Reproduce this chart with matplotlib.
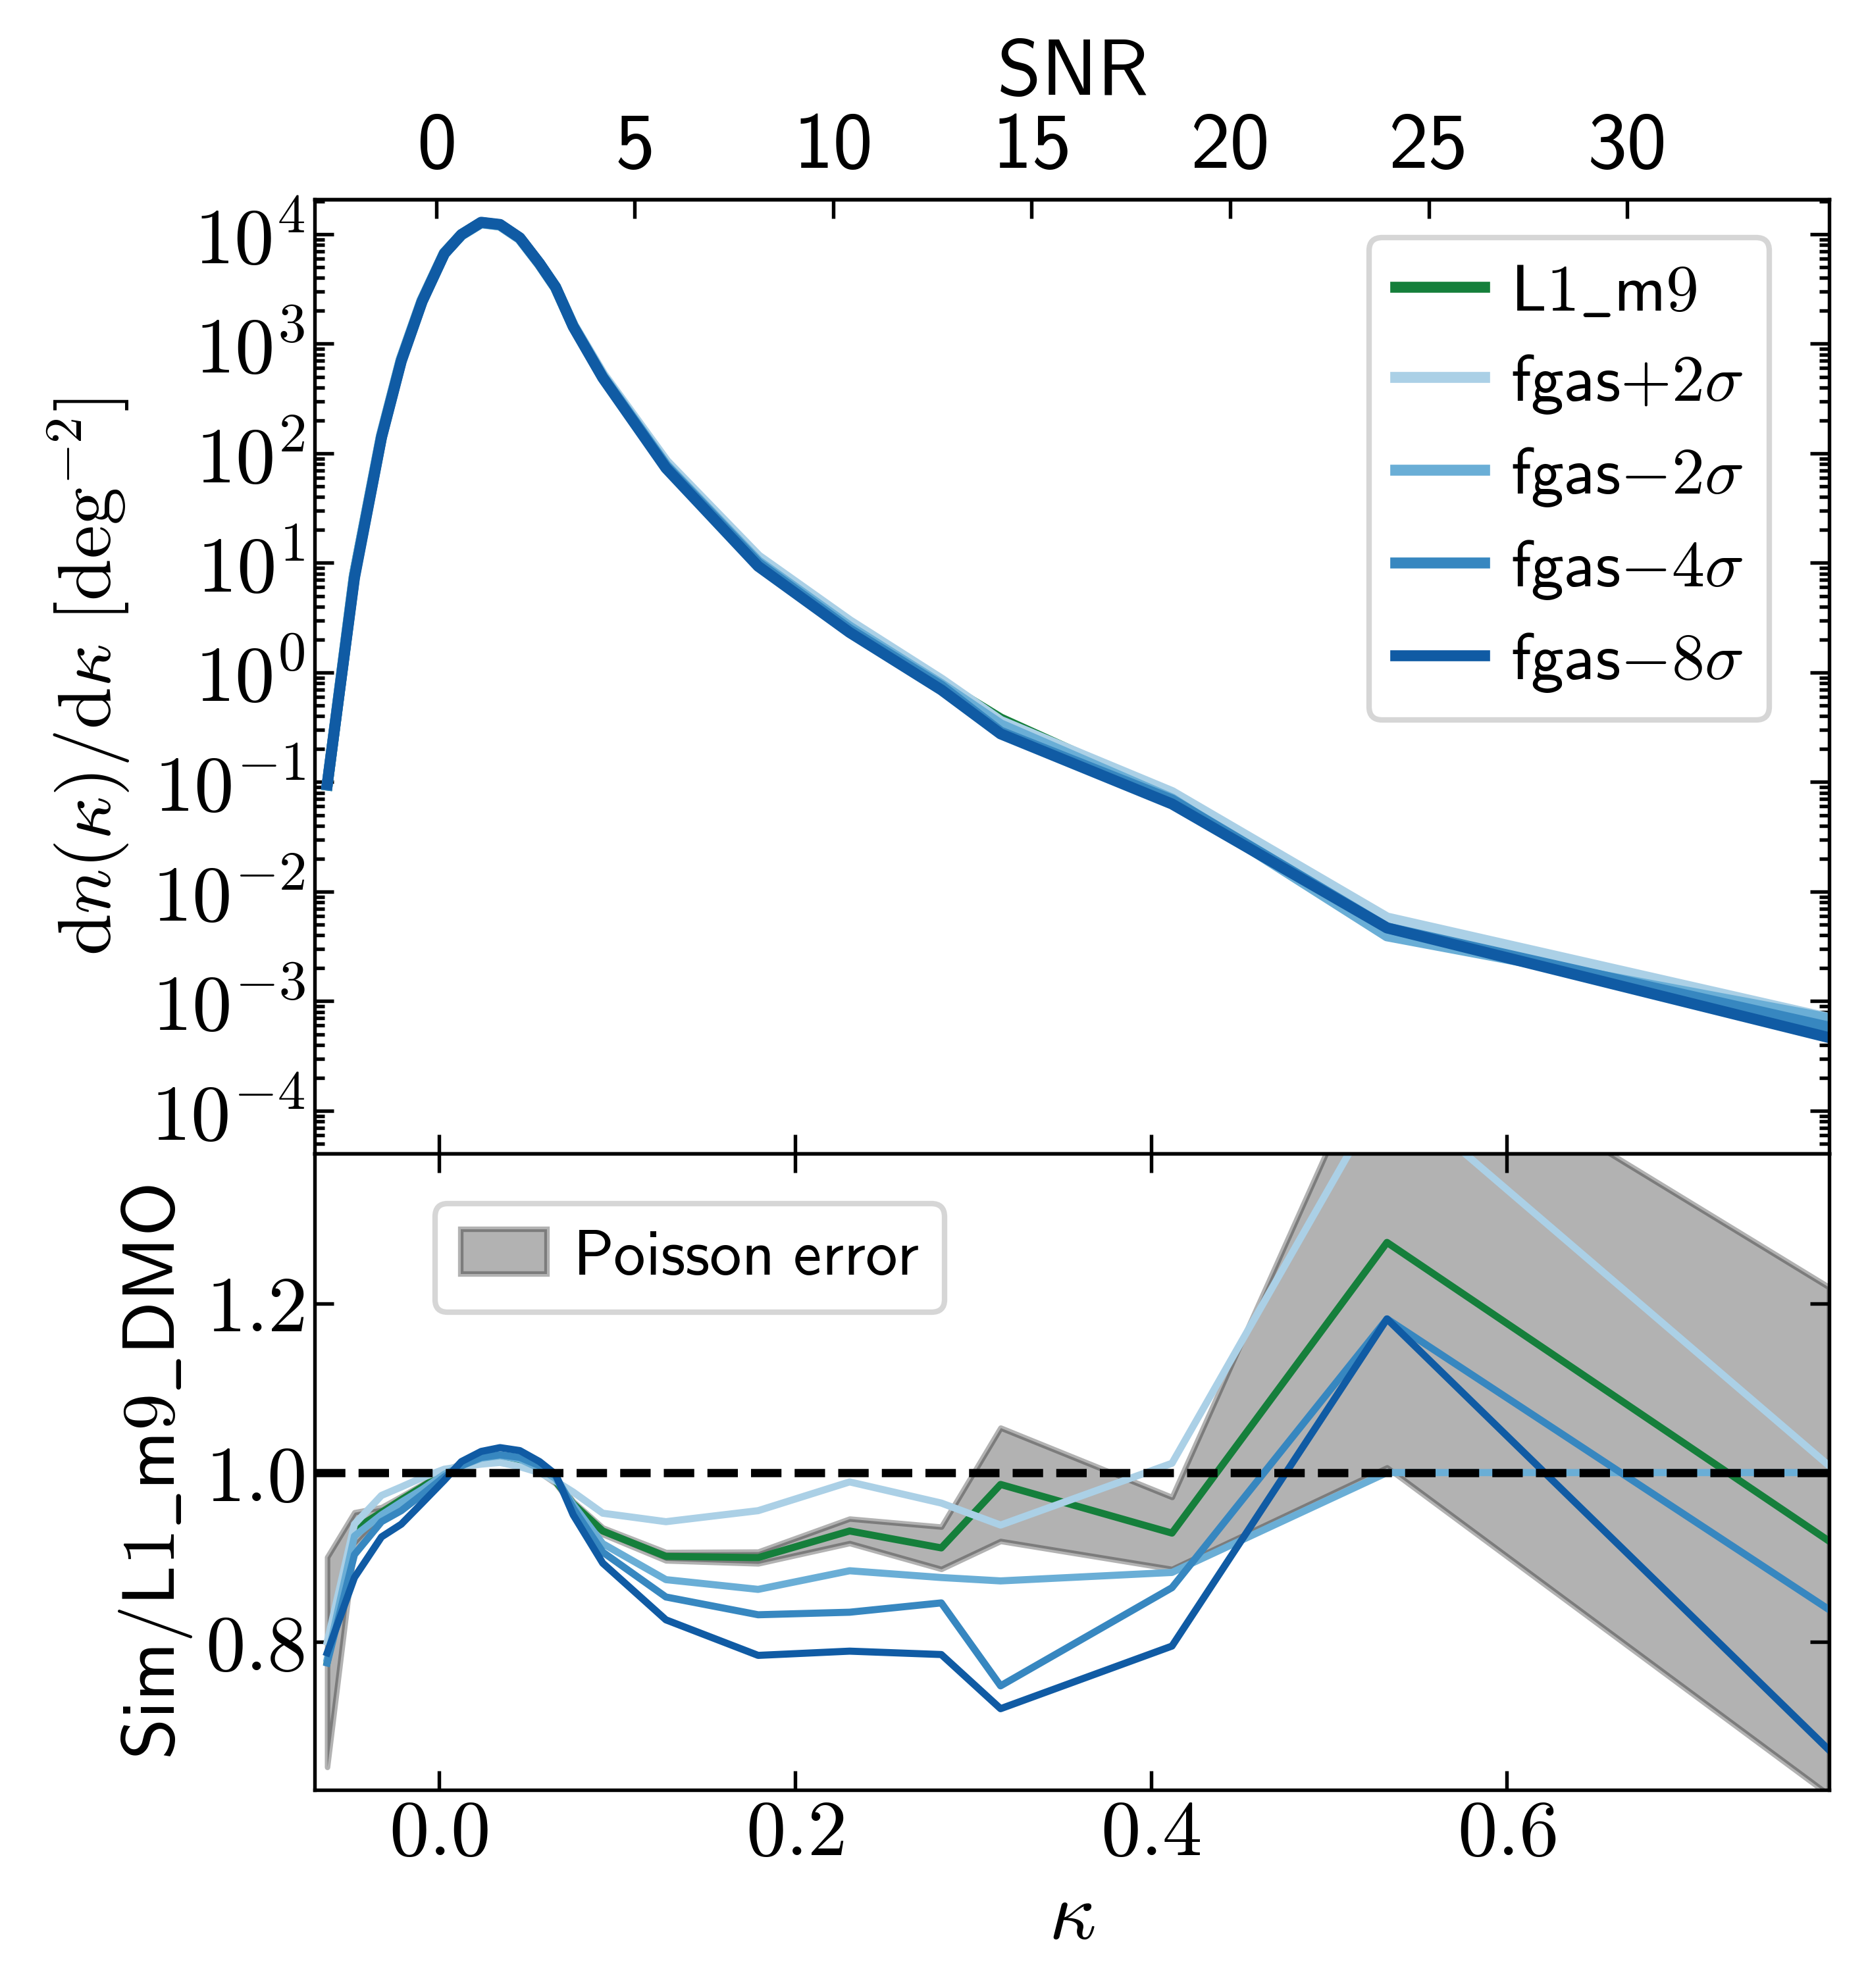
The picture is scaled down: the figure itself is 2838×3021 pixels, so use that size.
import numpy as np
import matplotlib
matplotlib.use("Agg")
import matplotlib.pyplot as plt
from matplotlib.ticker import FixedLocator, FuncFormatter, LogLocator, NullFormatter

# ---------------- data ----------------
kappa = [-0.0628, -0.0475, -0.0323, -0.0212, -0.0095, 0.0030, 0.0126, 0.0237,
         0.0343, 0.0454, 0.0565, 0.0655, 0.0754, 0.0920, 0.1275, 0.1793,
         0.2307, 0.2822, 0.3155, 0.4118, 0.5326, 0.7810]

# reference (L1_m9_DMO) peak counts dn/dkappa [deg^-2]
dmo_pdf = [0.121, 8.32, 151.0, 738.0, 2518.0, 6714.0, 9817.0, 12560.0,
           11940.0, 9057.0, 5346.0, 3304.0, 1510.0, 548.0, 88.9, 11.9,
           2.94, 0.885, 0.382, 0.0794, 0.00395, 0.000692]

ratio_L1_m9 = [0.776, 0.933, 0.953, 0.968, 0.983, 1.000, 1.008, 1.016,
               1.018, 1.015, 1.003, 0.990, 0.963, 0.931, 0.901, 0.8995,
               0.931, 0.911, 0.986, 0.9285, 1.272, 0.919]
ratio_fgas_p2 = [0.800, 0.939, 0.973, 0.983, 0.994, 1.004, 1.007, 1.010,
                 1.012, 1.007, 1.000, 0.990, 0.977, 0.952, 0.942, 0.955,
                 0.989, 0.964, 0.938, 1.011, 1.456, 1.008]
ratio_fgas_m2 = [0.780, 0.925, 0.950, 0.965, 0.980, 0.998, 1.008, 1.017,
                 1.020, 1.016, 1.005, 0.993, 0.962, 0.916, 0.8735, 0.862,
                 0.884, 0.876, 0.872, 0.882, 1.000, 1.000]
ratio_fgas_m4 = [0.775, 0.903, 0.942, 0.955, 0.974, 0.995, 1.008, 1.018,
                 1.021, 1.018, 1.008, 0.996, 0.958, 0.906, 0.853, 0.832,
                 0.835, 0.846, 0.748, 0.864, 1.1816, 0.838]
ratio_fgas_m8 = [0.787, 0.876, 0.924, 0.939, 0.964, 0.991, 1.013, 1.025,
                 1.0295, 1.026, 1.013, 0.998, 0.950, 0.893, 0.826, 0.784,
                 0.789, 0.785, 0.721, 0.795, 1.1816, 0.672]
poisson_err = [0.124, 0.020, 0.006, 0.004, 0.003, 0.003, 0.003, 0.003,
               0.003, 0.003, 0.003, 0.003, 0.003, 0.004, 0.005, 0.007,
               0.0145, 0.025, 0.067, 0.0425, 0.266, 0.300]

series_labels = [r"$\mathsf{L1\_m9}$", r"$\mathsf{fgas}{+2\sigma}$",
                 r"$\mathsf{fgas}{-2\sigma}$", r"$\mathsf{fgas}{-4\sigma}$",
                 r"$\mathsf{fgas}{-8\sigma}$"]
series_ratios = [ratio_L1_m9, ratio_fgas_p2, ratio_fgas_m2, ratio_fgas_m4, ratio_fgas_m8]
series_colors = ["#157f3b", "#abd0e6", "#6aaed6", "#3787c0", "#105ba4"]

snr_ticks = [0, 5, 10, 15, 20, 25, 30]
kappa_ticks = [0.0, 0.2, 0.4, 0.6]
ratio_ticks = [0.8, 1.0, 1.2]
kappa_mean = -0.0015
sigma_noise = 0.0223

# ---------------- style ----------------
plt.rcParams.update({
    "font.family": "serif",
    "font.serif": ["cmr10"],
    "mathtext.fontset": "cm",
    "axes.formatter.use_mathtext": True,
    "axes.linewidth": 1.3,
})

fig = plt.figure(figsize=(9.46, 10.0733), dpi=300)
ax1 = fig.add_axes([0.1684, 0.4196, 0.8108, 0.4798])
ax2 = fig.add_axes([0.1684, 0.0996, 0.8108, 0.3200], sharex=ax1)

TICK = dict(direction="in", width=1.3)
LEG = dict(handlelength=1.35, handletextpad=0.4, fancybox=True, borderaxespad=0)

# ---------------- top panel ----------------
dmo = np.array(dmo_pdf)
for r, c, lab in zip(series_ratios, series_colors, series_labels):
    ax1.plot(kappa, dmo * np.array(r), color=c, lw=4, label=lab)

ax1.set_yscale("log")
ax1.set_ylim(4.07e-5, 2.08e4)
ax1.set_xlim(-0.0699, 0.781)
ax1.yaxis.set_major_locator(LogLocator(base=10, numticks=30))
ax1.yaxis.set_minor_locator(LogLocator(base=10, subs=np.arange(2, 10), numticks=30))
ax1.yaxis.set_minor_formatter(NullFormatter())
ax1.tick_params(which="both", left=True, right=True, top=False, bottom=True,
                labelbottom=False, labelsize=29, **TICK)
ax1.tick_params(which="major", length=7)
ax1.tick_params(which="minor", length=3.5)
ax1.set_ylabel(r"$\mathrm{d}n(\kappa)/\mathrm{d}\kappa\ [\mathrm{deg}^{-2}]$",
               fontsize=27.5, labelpad=7)

leg1 = ax1.legend(loc="upper right", bbox_to_anchor=(0.9606, 0.960),
                  labelspacing=0.45, fontsize=24, **LEG)
leg1.get_frame().set_linewidth(2.0)

sec = ax1.secondary_xaxis("top", functions=(lambda k: (k - kappa_mean) / sigma_noise,
                                            lambda s: s * sigma_noise + kappa_mean))
sec.xaxis.set_major_locator(FixedLocator(snr_ticks))
sec.xaxis.set_major_formatter(FuncFormatter(lambda v, p: "%d" % int(round(v))))
sec.tick_params(which="major", length=7, labelsize=29, pad=6,
                labelfontfamily="cmss10", **TICK)
sec.tick_params(which="minor", length=0)
sec.set_xlabel(r"$\mathsf{SNR}$", fontsize=29, labelpad=6.5)

# ---------------- bottom panel ----------------
g = np.array(ratio_L1_m9)
e = np.array(poisson_err)
ax2.fill_between(kappa, g - e, g + e, color="k", alpha=0.3, lw=2,
                 label=r"$\mathsf{Poisson\ error}$")
for r, c in zip(series_ratios, series_colors):
    ax2.plot(kappa, r, color=c, lw=2.6)
ax2.axhline(1.0, color="k", ls="--", lw=3, zorder=5)

ax2.set_ylim(0.625, 1.377)
ax2.xaxis.set_major_locator(FixedLocator(kappa_ticks))
ax2.yaxis.set_major_locator(FixedLocator(ratio_ticks))
ax2.xaxis.set_major_formatter(FuncFormatter(lambda v, p: r"$%.1f$" % v))
ax2.yaxis.set_major_formatter(FuncFormatter(lambda v, p: r"$%.1f$" % v))
ax2.tick_params(which="both", left=True, right=True, top=True, bottom=True,
                labelsize=29, length=7, **TICK)
ax2.set_xlabel(r"$\kappa$", fontsize=30)
ax2.set_ylabel(r"$\mathsf{Sim/L1\_m9\_DMO}$", fontsize=27)

leg2 = ax2.legend(loc="upper left", bbox_to_anchor=(0.0795, 0.921),
                  fontsize=23.3, **LEG)
leg2.get_frame().set_linewidth(2.0)

fig.savefig("out.png", dpi=300)
